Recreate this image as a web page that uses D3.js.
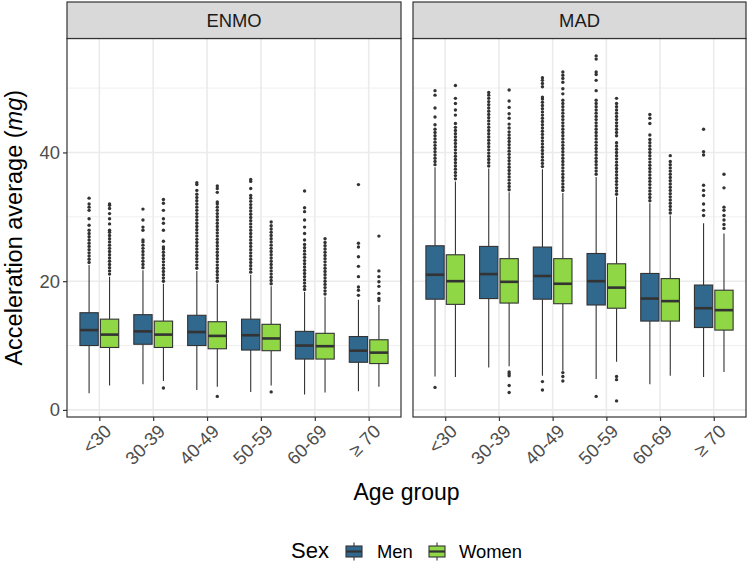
<!DOCTYPE html>
<html><head><meta charset="utf-8">
<script src="https://cdn.jsdelivr.net/npm/d3@7"></script>
<style>body{margin:0;background:#fff} svg{display:block} text{font-family:"Liberation Sans",Arial,Helvetica,sans-serif}</style>
</head><body><svg id="chart" width="749" height="564"></svg>
<script>
// ---------- DATA ----------
const categories = ["<30", "30-39", "40-49", "50-59", "60-69", "\u2265 70"];
const sexes = ["Men", "Women"];
const metrics = ["ENMO", "MAD"];
const yMajorTicks = [0, 20, 40];
const yMinorTicks = [10, 30, 50];

// ENMO – Men
const enmoMenLo  = [2.6, 4.0, 3.1, 2.8, 2.4, 2.9];
const enmoMenQ1  = [10.0, 10.2, 10.0, 9.3, 7.9, 7.4];
const enmoMenMed = [12.4, 12.2, 12.1, 11.6, 10.0, 9.2];
const enmoMenQ3  = [15.1, 14.8, 14.7, 14.1, 12.2, 11.4];
const enmoMenHi  = [22.5, 21.7, 21.6, 21.0, 18.3, 17.1];
const enmoMenOut = [
  [22.9,23.4,23.9,24.4,24.9,25.4,25.9,26.4,26.9,27.4,27.9,28.7,29.7,31.0,31.5,32.0,32.9],
  [22.1,22.6,23.1,23.6,24.1,24.6,25.1,25.6,26.1,26.4,27.9,28.4,29.5,31.2],
  [22.0,22.5,23.0,23.5,24.0,24.5,25.0,25.5,26.0,26.5,27.0,27.5,28.0,28.5,29.0,29.5,30.0,30.5,31.0,31.5,32.0,32.5,33.0,33.5,34.1,35.0,35.3],
  [21.4,21.9,22.4,22.9,23.4,23.9,24.4,24.9,25.4,25.9,26.4,26.9,27.4,27.9,28.4,28.9,29.4,29.9,30.4,30.9,31.4,31.9,32.4,32.9,33.3,34.4,35.5,35.8],
  [18.7,19.2,19.7,20.2,20.7,21.2,21.7,22.2,22.7,23.2,23.7,24.2,24.7,25.2,25.7,26.4,27.4,28.4,29.5,30.8,31.4,34.0],
  [17.8,18.6,19.1,20.7,22.3,23.8,25.3,25.9,35.0]
];
// ENMO – Women
const enmoWomenLo  = [3.8, 4.5, 3.6, 3.8, 2.7, 3.6];
const enmoWomenQ1  = [9.7, 9.7, 9.5, 9.2, 7.9, 7.2];
const enmoWomenMed = [11.7, 11.7, 11.5, 11.1, 9.9, 8.9];
const enmoWomenQ3  = [14.1, 13.8, 13.7, 13.3, 11.9, 10.9];
const enmoWomenHi  = [20.7, 19.6, 19.6, 19.2, 17.6, 16.3];
const enmoWomenOut = [
  [21.1,21.6,22.1,22.6,23.1,23.6,24.1,24.6,25.1,25.6,26.1,26.6,27.1,27.6,27.9,28.9,29.7,30.5,31.3,31.8,32.0],
  [3.4,20.0,20.5,21.0,21.5,22.0,22.5,23.0,23.5,24.0,24.5,25.0,25.3,26.2,27.9,29.0,29.7,31.0,32.1,32.7],
  [2.1,20.0,20.5,21.0,21.5,22.0,22.5,23.0,23.5,24.0,24.5,25.0,25.5,26.0,26.5,27.0,27.5,28.0,28.5,29.0,29.5,30.0,30.5,31.0,31.5,32.0,32.3,33.8,34.4,34.8],
  [2.8,19.6,20.1,20.6,21.1,21.6,22.1,22.6,23.1,23.6,24.1,24.6,25.1,25.6,26.1,26.6,27.1,27.6,28.1,28.6,29.2],
  [18.0,18.5,19.0,19.5,20.0,20.5,21.0,21.5,22.0,22.5,23.0,23.5,24.0,24.5,25.0,25.5,26.0,26.6],
  [17.0,17.3,18.1,19.2,19.9,20.7,21.6,27.0]
];
// MAD – Men
const madMenLo  = [5.2, 6.6, 5.3, 4.8, 4.0, 5.1];
const madMenQ1  = [17.2, 17.3, 17.2, 16.3, 13.8, 12.8];
const madMenMed = [21.0, 21.1, 20.8, 20.0, 17.3, 15.8];
const madMenQ3  = [25.5, 25.4, 25.3, 24.3, 21.2, 19.4];
const madMenHi  = [37.7, 37.5, 37.4, 36.2, 32.1, 29.0];
const madMenOut = [
  [3.5,38.1,38.6,39.1,39.6,40.1,40.6,41.1,41.6,42.1,42.6,43.1,43.6,44.3,45.5,46.9,48.9,49.6],
  [37.9,38.4,38.9,39.4,39.9,40.4,40.9,41.4,41.9,42.4,42.9,43.4,43.9,44.4,44.9,45.4,45.9,46.4,46.9,47.4,47.9,48.4,48.9,49.3],
  [3.1,4.4,37.8,38.3,38.8,39.3,39.8,40.3,40.8,41.3,41.8,42.3,42.8,43.3,43.8,44.3,44.8,45.3,45.8,46.3,46.8,47.3,47.8,48.3,48.6,50.2,50.7,51.2,51.6],
  [2.1,36.6,37.1,37.6,38.1,38.6,39.1,39.6,40.1,40.6,41.1,41.6,42.1,42.6,43.1,43.6,44.1,44.6,45.1,45.6,46.1,46.6,47.1,47.6,48.1,49.6,51.2,52.1,52.5,54.5,55.0],
  [32.5,33.0,33.5,34.0,34.5,35.0,35.5,36.0,36.5,37.0,37.5,38.0,38.5,39.0,39.5,40.0,40.5,41.0,41.5,42.0,42.7,44.5,45.3,45.9],
  [30.2,31.0,32.0,33.3,34.1,34.9,39.6,40.1,43.6]
];
// MAD – Women
const madWomenLo  = [5.1, 6.8, 6.1, 7.5, 5.3, 5.9];
const madWomenQ1  = [16.4, 16.6, 16.5, 15.8, 13.8, 12.4];
const madWomenMed = [20.0, 19.9, 19.6, 19.0, 16.9, 15.5];
const madWomenQ3  = [24.1, 23.5, 23.5, 22.7, 20.4, 18.6];
const madWomenHi  = [35.5, 33.8, 33.7, 33.1, 30.2, 27.4];
const madWomenOut = [
  [35.9,36.4,36.9,37.4,37.9,38.4,38.9,39.4,39.9,40.4,40.9,41.4,41.9,42.4,42.9,43.4,43.9,44.5,45.8,46.6,47.6,48.4,50.4],
  [2.7,3.8,5.3,5.6,5.9,34.2,34.7,35.2,35.7,36.2,36.7,37.2,37.7,38.2,38.7,39.2,39.7,40.2,40.7,41.2,41.7,42.2,42.7,43.2,43.8,44.4,45.3,46.0,47.0,48.0,49.7],
  [4.5,5.2,5.8,34.1,34.6,35.1,35.6,36.1,36.6,37.1,37.6,38.1,38.6,39.1,39.6,40.1,40.6,41.1,41.6,42.1,42.6,43.1,43.6,44.1,44.6,45.1,45.6,46.1,46.6,47.1,47.6,48.1,49.1,49.9,50.9,51.5,52.0,52.5],
  [1.4,4.7,5.2,33.5,34.0,34.5,35.0,35.5,36.0,36.5,37.0,37.5,38.0,38.5,39.0,39.5,40.0,40.5,41.0,41.5,42.6,43.1,43.6,44.1,44.6,45.1,45.6,46.1,46.6,47.1,47.6,48.4],
  [30.6,31.1,31.6,32.1,32.6,33.1,33.6,34.1,34.6,35.1,35.6,36.1,36.6,37.1,37.6,38.1,38.6,39.5],
  [28.2,28.8,29.5,30.2,31.0,31.5,34.5,36.6]
];

const sexColors = ["#31688E", "#8FD744"];

// ---------- BUILD ----------
function series(lo, q1, med, q3, hi, out) {
  return categories.map((c, i) => ({cat: i, lo: lo[i], q1: q1[i], med: med[i], q3: q3[i], hi: hi[i], out: out[i]}));
}
const panelData = [
  {name: metrics[0], groups: [
    series(enmoMenLo, enmoMenQ1, enmoMenMed, enmoMenQ3, enmoMenHi, enmoMenOut),
    series(enmoWomenLo, enmoWomenQ1, enmoWomenMed, enmoWomenQ3, enmoWomenHi, enmoWomenOut)]},
  {name: metrics[1], groups: [
    series(madMenLo, madMenQ1, madMenMed, madMenQ3, madMenHi, madMenOut),
    series(madWomenLo, madWomenQ1, madWomenMed, madWomenQ3, madWomenHi, madWomenOut)]}
];

const svg = d3.select("#chart");
svg.append("rect").attr("width", 749).attr("height", 564).attr("fill", "#fff");

const panelTop = 38.5, panelBottom = 417, stripTop = 2;
const panelX = [[67, 401], [413, 746]];
const y = d3.scaleLinear().domain([-1.1, 57.7]).range([panelBottom, panelTop]);
const dark = "#333333", gridCol = "#EBEBEB";

panelData.forEach((p, k) => {
  const [x0, x1] = panelX[k];
  const x = d3.scaleLinear().domain([0.4, categories.length + 0.6]).range([x0, x1]);
  const g = svg.append("g");
  // grid
  g.selectAll(".minor").data(yMinorTicks).join("line")
    .attr("x1", x0).attr("x2", x1).attr("y1", d => y(d)).attr("y2", d => y(d))
    .attr("stroke", gridCol).attr("stroke-width", 0.8);
  g.selectAll(".major").data(yMajorTicks).join("line")
    .attr("x1", x0).attr("x2", x1).attr("y1", d => y(d)).attr("y2", d => y(d))
    .attr("stroke", gridCol).attr("stroke-width", 1.6);
  g.selectAll(".vmajor").data(categories).join("line")
    .attr("x1", (d, i) => x(i + 1)).attr("x2", (d, i) => x(i + 1))
    .attr("y1", panelTop).attr("y2", panelBottom)
    .attr("stroke", gridCol).attr("stroke-width", 1.6);

  const half = (x(0.17) - x(0));
  p.groups.forEach((grp, s) => {
    const off = s === 0 ? -0.19 : 0.19;
    const bg = g.append("g");
    grp.forEach(d => {
      const cx = x(d.cat + 1 + off);
      bg.append("line").attr("x1", cx).attr("x2", cx).attr("y1", y(d.hi)).attr("y2", y(d.q3))
        .attr("stroke", dark).attr("stroke-width", 1.1);
      bg.append("line").attr("x1", cx).attr("x2", cx).attr("y1", y(d.q1)).attr("y2", y(d.lo))
        .attr("stroke", dark).attr("stroke-width", 1.1);
      bg.append("rect").attr("x", cx - half).attr("width", 2 * half)
        .attr("y", y(d.q3)).attr("height", y(d.q1) - y(d.q3))
        .attr("fill", sexColors[s]).attr("stroke", dark).attr("stroke-width", 1.1);
      bg.append("line").attr("x1", cx - half).attr("x2", cx + half).attr("y1", y(d.med)).attr("y2", y(d.med))
        .attr("stroke", dark).attr("stroke-width", 2.6);
      bg.selectAll(null).data(d.out).join("circle")
        .attr("cx", cx).attr("cy", v => y(v)).attr("r", 1.7).attr("fill", dark);
    });
  });

  // border
  g.append("rect").attr("x", x0).attr("y", panelTop).attr("width", x1 - x0).attr("height", panelBottom - panelTop)
    .attr("fill", "none").attr("stroke", dark).attr("stroke-width", 1.2);
  // strip
  g.append("rect").attr("x", x0).attr("y", stripTop).attr("width", x1 - x0).attr("height", panelTop - stripTop)
    .attr("fill", "#D9D9D9").attr("stroke", dark).attr("stroke-width", 1.2);
  g.append("text").attr("x", (x0 + x1) / 2).attr("y", (stripTop + panelTop) / 2).attr("dy", "0.36em")
    .attr("text-anchor", "middle").attr("font-size", 18.4).attr("fill", "#1A1A1A").text(p.name);

  // x axis
  const xa = d3.axisBottom(x).tickValues(d3.range(1, categories.length + 1))
    .tickFormat(i => categories[i - 1]).tickSize(4).tickPadding(4);
  const xg = svg.append("g").attr("transform", `translate(0,${panelBottom})`).call(xa);
  xg.select(".domain").remove();
  xg.selectAll(".tick line").attr("stroke", dark).attr("stroke-width", 1.2);
  xg.selectAll(".tick text").attr("font-size", 18.4).attr("fill", "#4D4D4D")
    .attr("text-anchor", "end").attr("dy", null)
    .attr("transform", "translate(3,6) rotate(-45)").attr("y", 0).attr("x", 0)
    .attr("dominant-baseline", "hanging");

  if (k === 0) {
    const ya = d3.axisLeft(y).tickValues(yMajorTicks).tickSize(4).tickPadding(3);
    const yg = svg.append("g").attr("transform", `translate(${x0},0)`).call(ya);
    yg.select(".domain").remove();
    yg.selectAll(".tick line").attr("stroke", dark).attr("stroke-width", 1.2);
    yg.selectAll(".tick text").attr("font-size", 18.4).attr("fill", "#4D4D4D").attr("font-family", "Liberation Sans, Arial, sans-serif");
  }
});

// axis titles
const yt = svg.append("text").attr("transform", `translate(22,${(panelTop + panelBottom) / 2}) rotate(-90)`)
  .attr("text-anchor", "middle").attr("font-size", 23.5).attr("fill", "#000");
yt.append("tspan").text("Acceleration average (");
yt.append("tspan").attr("font-style", "italic").text("mg");
yt.append("tspan").text(")");
svg.append("text").attr("x", (panelX[0][0] + panelX[1][1]) / 2).attr("y", 500)
  .attr("text-anchor", "middle").attr("font-size", 23).attr("fill", "#000").text("Age group");

// legend
const lg = svg.append("g");
lg.append("text").attr("x", 291).attr("y", 558).attr("font-size", 22).attr("fill", "#000").text("Sex");
const keyX = [354, 437], labX = [377, 459];
sexes.forEach((s, i) => {
  const cx = keyX[i], cy = 551.5;
  lg.append("line").attr("x1", cx).attr("x2", cx).attr("y1", cy - 9).attr("y2", cy + 9).attr("stroke", dark).attr("stroke-width", 1.1);
  lg.append("rect").attr("x", cx - 8).attr("y", cy - 5.5).attr("width", 16).attr("height", 11)
    .attr("fill", sexColors[i]).attr("stroke", dark).attr("stroke-width", 1.1);
  lg.append("line").attr("x1", cx - 8).attr("x2", cx + 8).attr("y1", cy).attr("y2", cy).attr("stroke", dark).attr("stroke-width", 2.2);
  lg.append("text").attr("x", labX[i]).attr("y", 558).attr("font-size", 18.4).attr("fill", "#000").text(s);
});
</script></body></html>
